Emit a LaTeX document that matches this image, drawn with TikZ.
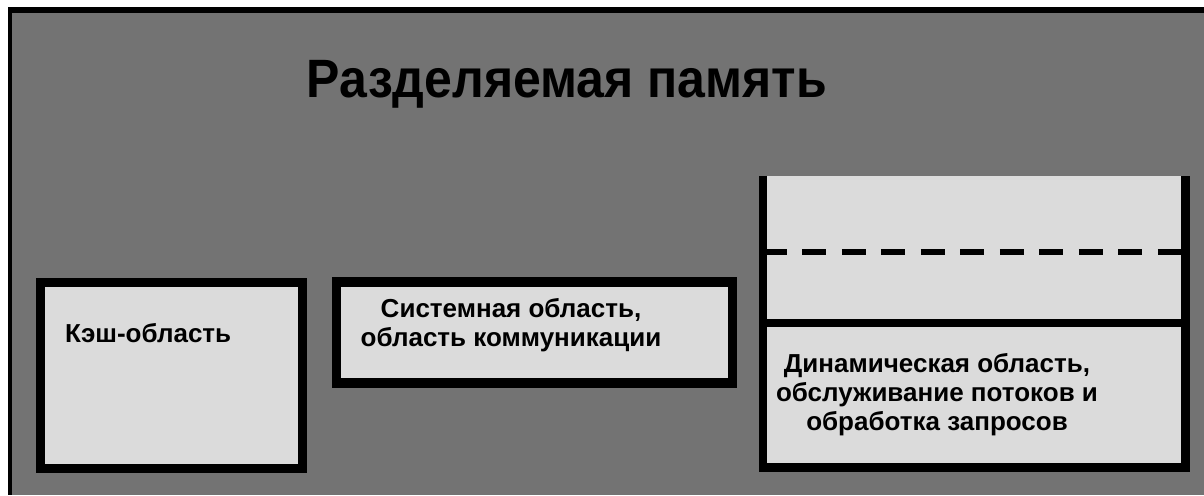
\documentclass[tikz,border=0pt]{standalone}
\usepackage{fontspec}
\setmainfont{Liberation Sans}
\usetikzlibrary{positioning}

\begin{document}
\begin{tikzpicture}[x=1pt, y=-1pt,
  every node/.style={font=\bfseries, inner sep=0pt}
]
\tikzset{
  frame/.style  ={fill=black},
  shared/.style ={fill=black!55},
  area/.style   ={draw=black, fill=black!14, line width=9.5pt},
  areatxt/.style={font=\fontsize{26}{29}\bfseries\selectfont, align=center},
  split/.style  ={draw=black, line width=8.5pt},
  bound/.style  ={draw=black, line width=6.5pt,
                  dash pattern=on 24pt off 15.5pt}
}
\useasboundingbox (0,0) rectangle (1204,495);

%% ----- Shared memory background -----
\fill[white] (0,0) rectangle (1204,495);
\fill[frame] (8,7) rectangle (1204,495);
\fill[shared] (12,13) rectangle (1204,495);
\node[font=\fontsize{50}{54}\bfseries\selectfont, anchor=base,
      yscale=1.08, transform shape]
  (title) at (567,97) {Разделяемая память};

%% ----- Cache area -----
\node[area, minimum width=262pt, minimum height=186pt]
  (cache) at (171.5,375.5) {};
\node[areatxt, anchor=base west] (cachetxt) at (65,342) {Кэш-область};

%% ----- System area -----
\node[area, minimum width=396pt, minimum height=101pt]
  (sys) at (534.5,332.5) {};
\node[areatxt] (systxt) at (511,325)
  {Системная область,\\область коммуникации};

%% ----- Dynamic area (open at the top) -----
\node[fill=black!14, minimum width=422.5pt, minimum height=291.5pt]
  (dyn) at (974.25,321.75) {};
\draw[split] (dyn.north west) -- (dyn.south west)
  -- (dyn.south east) -- (dyn.north east);
\coordinate (cut) at (974,323);
\coordinate (dash) at (974,252);
\draw[split] (dyn.west |- cut) -- (dyn.east |- cut);
\draw[bound] (dyn.west |- dash) -- (dyn.east |- dash);
\node[areatxt] (dyntxt) at (937,394.5)
  {Динамическая область,\\обслуживание потоков и\\обработка запросов};

\end{tikzpicture}
\end{document}
